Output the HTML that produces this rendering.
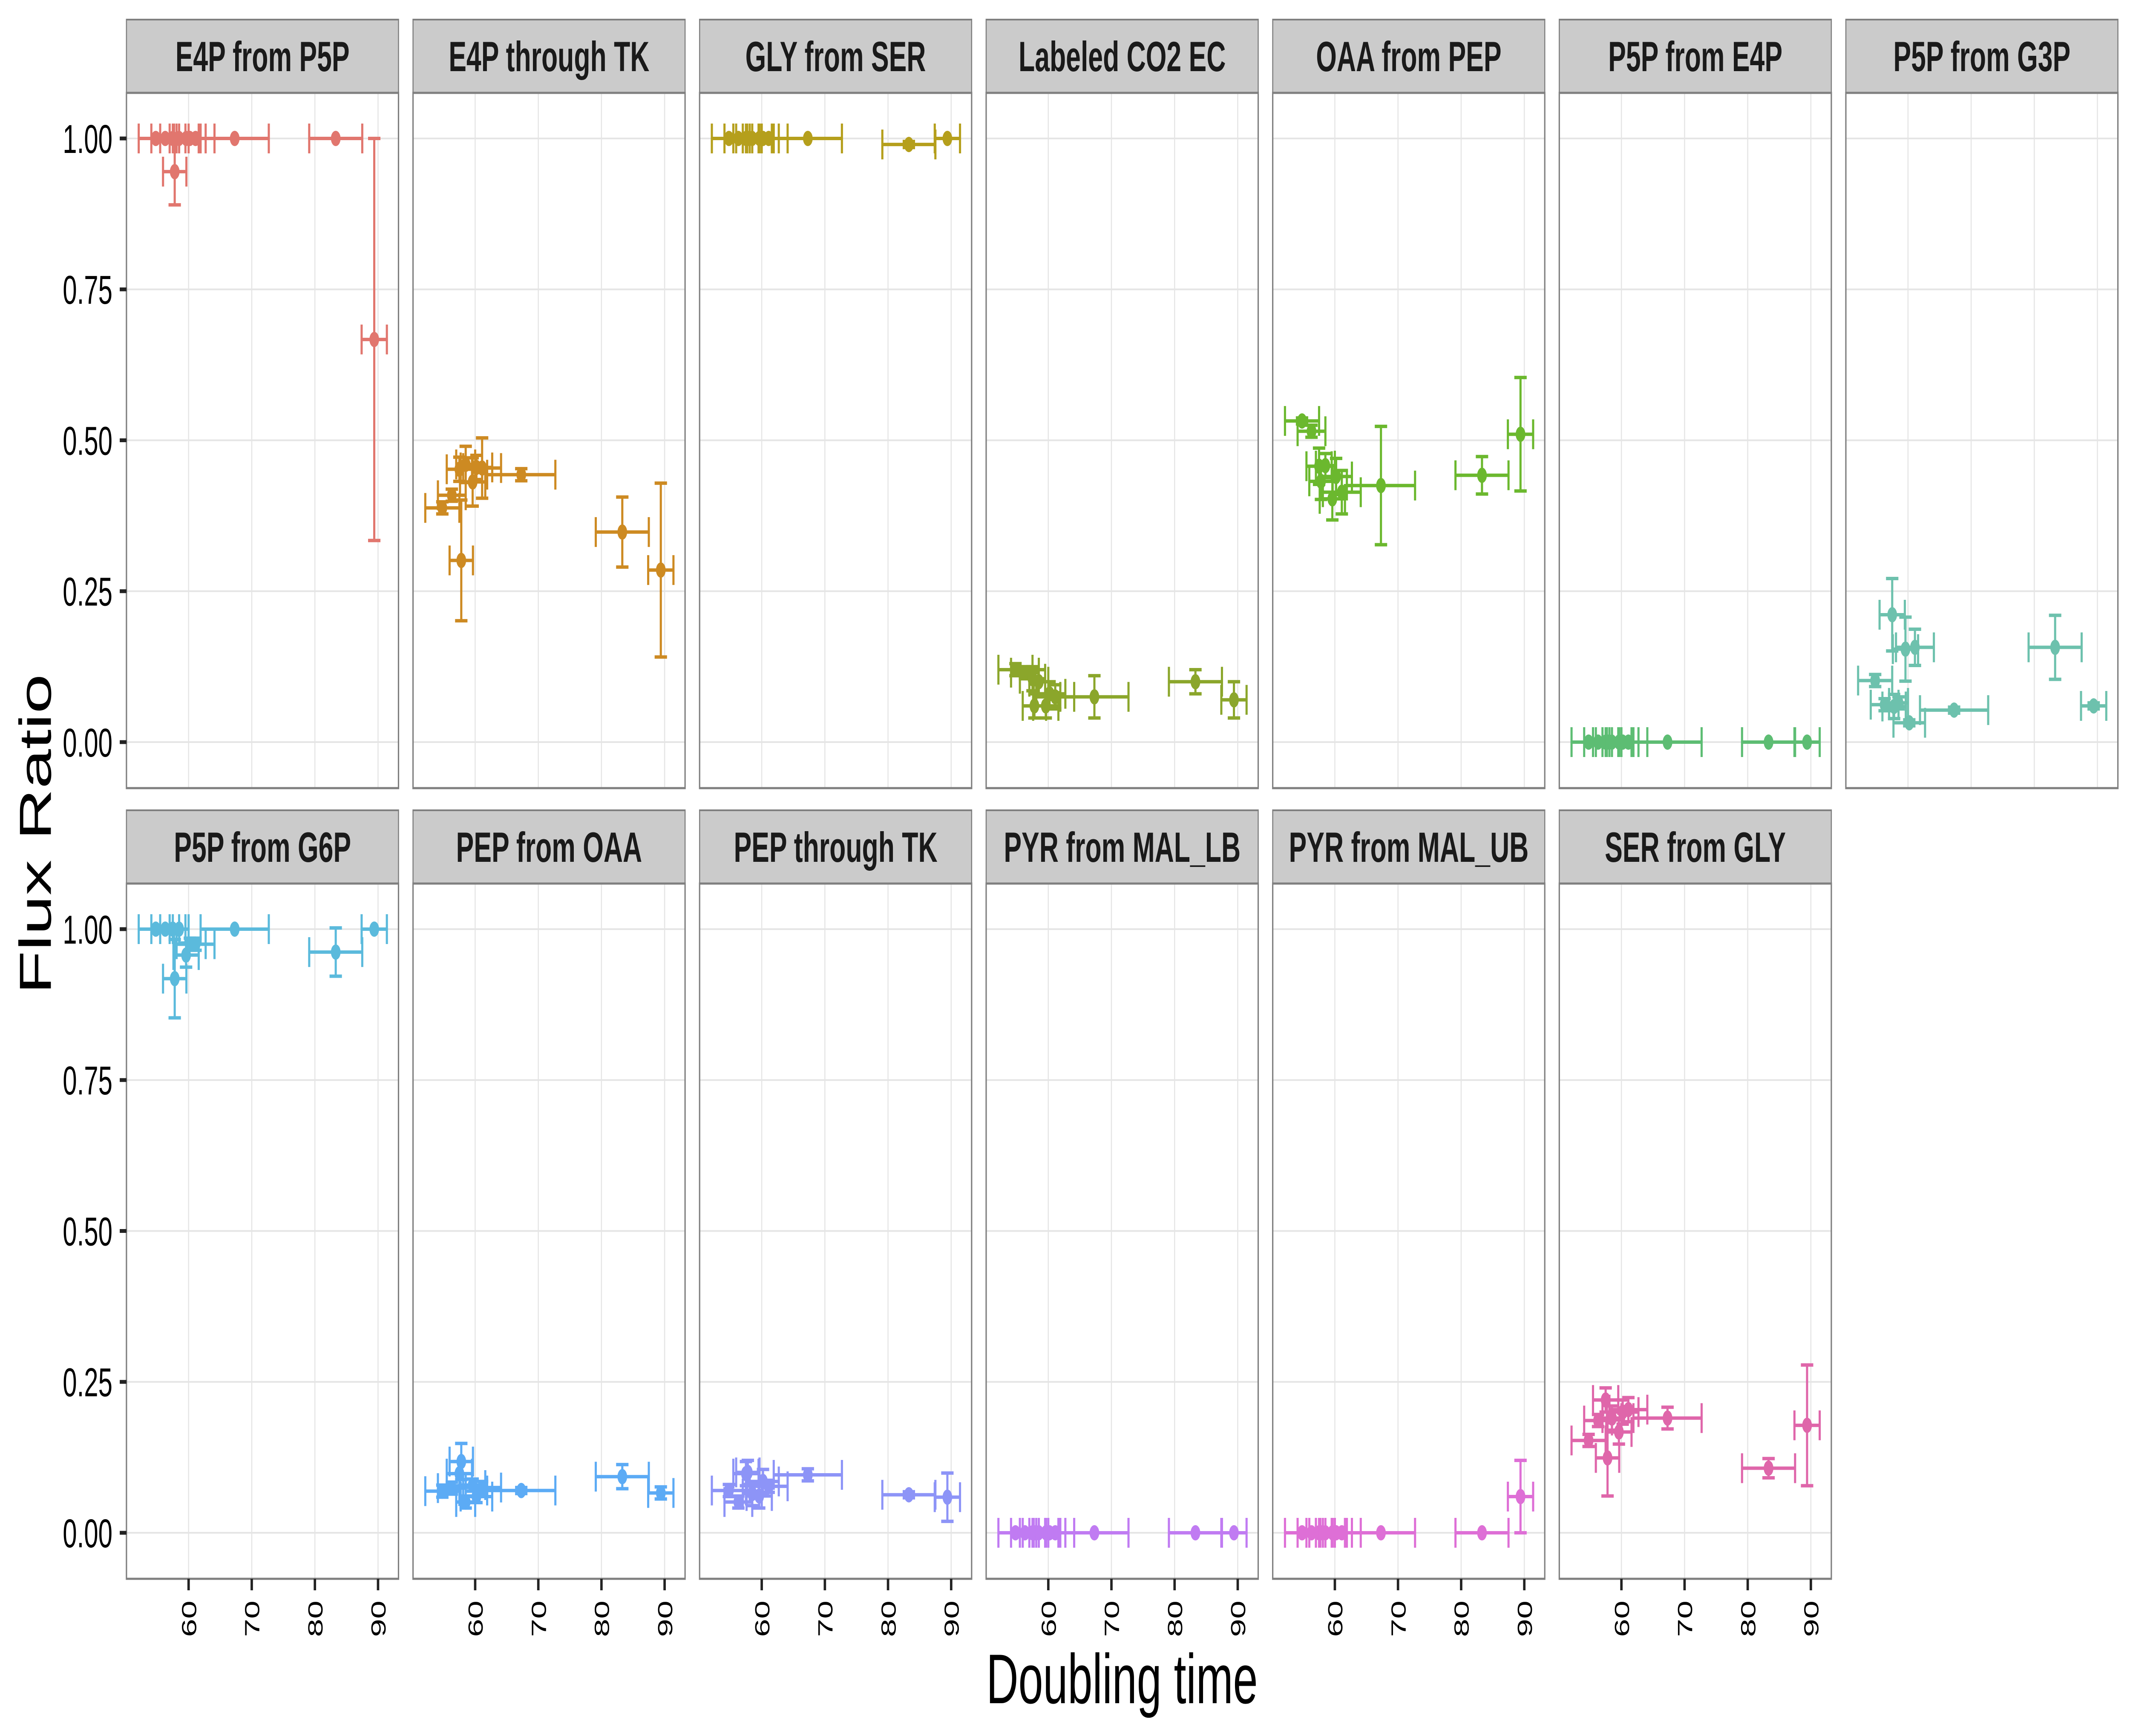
<!DOCTYPE html>
<html><head><meta charset="utf-8"><title>Flux Ratio vs Doubling time</title>
<style>html,body{margin:0;padding:0;background:#fff;width:100%;height:100%;overflow:hidden}svg{display:block;width:100vw;height:100vh}</style></head>
<body>
<svg id="chart" xmlns="http://www.w3.org/2000/svg" viewBox="0 0 7916 4075" preserveAspectRatio="none" font-family="'Liberation Sans', Arial, sans-serif">
<rect width="7916" height="4075" fill="#fff"/>
<text x="4170" y="3998" font-size="165" text-anchor="middle" fill="#000">Doubling time</text>
<text transform="translate(189,1958) rotate(-90)" font-size="167" text-anchor="middle" fill="#000">Flux Ratio</text>
<g id="panels"></g>
</svg>
<script>
const panelNames = ["E4P from P5P","E4P through TK","GLY from SER","Labeled CO2 EC","OAA from PEP","P5P from E4P","P5P from G3P","P5P from G6P","PEP from OAA","PEP through TK","PYR from MAL_LB","PYR from MAL_UB","SER from GLY"];
const panelColors = ["#E1766E","#CD8A22","#B59F1C","#8BA62B","#6BB82E","#5DBD73","#6DC1AD","#5BBADC","#5CABF5","#8D94F7","#C07BF2","#DE6FD6","#DF66AA"];
const doublingTime = [54.8, 56.3, 57.5, 57.8, 58.5, 59.6, 60.2, 61.1, 67.3, 83.3, 89.4];
const doublingErr  = [2.7, 2.2, 2.0, 1.85, 1.5, 2.0, 2.5, 3.0, 5.4, 4.2, 2.0];
const ratio_E4P_from_P5P   = [1, 1, 1, 0.945, 1, 1, 1, 1, 1, 1, 0.667];
const err_E4P_from_P5P     = [0, 0, 0, 0.055, 0, 0, 0, 0, 0, 0, 0.333];
const ratio_E4P_through_TK = [0.388, 0.409, 0.452, 0.301, 0.46, 0.431, 0.455, 0.454, 0.443, 0.348, 0.285];
const err_E4P_through_TK   = [0.01, 0.01, 0.02, 0.1, 0.03, 0.04, 0.02, 0.05, 0.01, 0.058, 0.144];
const ratio_GLY_from_SER   = [1, 1, 1, 1, 1, 1, 1, 1, 1, 0.99, 1];
const err_GLY_from_SER     = [0, 0, 0, 0, 0, 0, 0, 0, 0, 0.005, 0];
const ratio_CO2_EC         = [0.12, 0.115, 0.105, 0.06, 0.1, 0.06, 0.08, 0.075, 0.075, 0.10, 0.07];
const err_CO2_EC           = [0.01, 0.01, 0.02, 0.02, 0.02, 0.02, 0.02, 0.02, 0.035, 0.02, 0.03];
const ratio_OAA_from_PEP   = [0.532, 0.515, 0.457, 0.432, 0.458, 0.403, 0.44, 0.414, 0.425, 0.442, 0.51];
const err_OAA_from_PEP     = [0.005, 0.01, 0.03, 0.03, 0.02, 0.035, 0.03, 0.036, 0.098, 0.031, 0.094];
const ratio_P5P_from_E4P   = [0, 0, 0, 0, 0, 0, 0, 0, 0, 0, 0];
const err_P5P_from_E4P     = [0, 0, 0, 0, 0, 0, 0, 0, 0, 0, 0];
const ratio_P5P_from_G3P   = [0.102, 0.062, 0.211, 0.059, 0.065, 0.154, 0.032, 0.157, 0.053, 0.157, 0.06];
const err_P5P_from_G3P     = [0.01, 0.01, 0.06, 0.02, 0.01, 0.053, 0.005, 0.03, 0.005, 0.053, 0.005];
const ratio_P5P_from_G6P   = [1, 1, 1, 0.918, 1, 0.957, 0.975, 0.975, 1, 0.962, 1];
const err_P5P_from_G6P     = [0, 0, 0, 0.065, 0, 0.02, 0.01, 0.01, 0, 0.04, 0];
const ratio_PEP_from_OAA   = [0.069, 0.074, 0.098, 0.118, 0.051, 0.079, 0.06, 0.075, 0.07, 0.093, 0.066];
const err_PEP_from_OAA     = [0.01, 0.01, 0.02, 0.03, 0.01, 0.01, 0.01, 0.01, 0.005, 0.02, 0.01];
const ratio_PEP_through_TK = [0.07, 0.051, 0.098, 0.1, 0.065, 0.061, 0.085, 0.077, 0.096, 0.063, 0.059];
const err_PEP_through_TK   = [0.01, 0.01, 0.02, 0.02, 0.02, 0.02, 0.02, 0.01, 0.01, 0.005, 0.04];
const ratio_PYR_MAL_LB     = [0, 0, 0, 0, 0, 0, 0, 0, 0, 0, 0];
const err_PYR_MAL_LB       = [0, 0, 0, 0, 0, 0, 0, 0, 0, 0, 0];
const ratio_PYR_MAL_UB     = [0, 0, 0, 0, 0, 0, 0, 0, 0, 0, 0.06];
const err_PYR_MAL_UB       = [0, 0, 0, 0, 0, 0, 0, 0, 0, 0, 0.06];
const ratio_SER_from_GLY   = [0.153, 0.186, 0.22, 0.124, 0.19, 0.167, 0.2, 0.204, 0.19, 0.107, 0.178];
const err_SER_from_GLY     = [0.01, 0.01, 0.02, 0.063, 0.02, 0.02, 0.02, 0.02, 0.018, 0.016, 0.1];
const yTicks = [0, 0.25, 0.5, 0.75, 1];
const yTickLabels = ["0.00", "0.25", "0.50", "0.75", "1.00"];
const xTicks = [60, 70, 80, 90];
const xTickLabels = ["60", "70", "80", "90"];

const ratios = [ratio_E4P_from_P5P, ratio_E4P_through_TK, ratio_GLY_from_SER, ratio_CO2_EC, ratio_OAA_from_PEP, ratio_P5P_from_E4P, ratio_P5P_from_G3P, ratio_P5P_from_G6P, ratio_PEP_from_OAA, ratio_PEP_through_TK, ratio_PYR_MAL_LB, ratio_PYR_MAL_UB, ratio_SER_from_GLY];
const errs = [err_E4P_from_P5P, err_E4P_through_TK, err_GLY_from_SER, err_CO2_EC, err_OAA_from_PEP, err_P5P_from_E4P, err_P5P_from_G3P, err_P5P_from_G6P, err_PEP_from_OAA, err_PEP_through_TK, err_PYR_MAL_LB, err_PYR_MAL_UB, err_SER_from_GLY];

const NS = "http://www.w3.org/2000/svg";
const root = document.getElementById("panels");
const PL = 470, PITCH = 1065, PW = 1011;
const ROW = 1856, STRIP_TOP = 46, PLOT_TOP = 218, PLOT_BOT = 1850;
const X0 = 50.16, X1 = 93.24;
function xScale(v, left) { return left + (v - X0) / (X1 - X0) * PW; }
function yScale(v, rowOff) { return rowOff + 1742 - v * 1417; }
function mk(tag, attrs, parent) {
  const e = document.createElementNS(NS, tag);
  for (const k in attrs) e.setAttribute(k, attrs[k]);
  parent.appendChild(e);
  return e;
}

panelNames.forEach(function (name, p) {
  const row = Math.floor(p / 7), col = p % 7;
  const left = PL + col * PITCH, off = row * ROW;
  const g = mk("g", {}, root);
  
  
  const strip = mk("rect", {x: left, y: off + STRIP_TOP, width: PW, height: PLOT_TOP - STRIP_TOP, fill: "#CBCBCB", stroke: "#7F7F7F", "stroke-width": 4}, g);
  
  
  const st = mk("text", {x: left + PW / 2, y: off + 167, "font-size": 99, "font-weight": "bold", "text-anchor": "middle", fill: "#1a1a1a"}, g);
  st.textContent = name;
  
  
  const bg = mk("rect", {x: left, y: off + PLOT_TOP, width: PW, height: PLOT_BOT - PLOT_TOP, fill: "#fff"}, g);
  
  
  yTicks.forEach(function (t) {
    const l = mk("line", {x1: left, x2: left + PW, y1: yScale(t, off), y2: yScale(t, off), stroke: "#E5E5E5", "stroke-width": 4}, g);
    
    
  });
  xTicks.forEach(function (t) {
    const l = mk("line", {x1: xScale(t, left), x2: xScale(t, left), y1: off + PLOT_TOP, y2: off + PLOT_BOT, stroke: "#E5E5E5", "stroke-width": 4}, g);
    
    
  });
  const color = panelColors[p];
  const vals = ratios[p], ev = errs[p];
  doublingTime.forEach(function (xv, i) {
    const cx = xScale(xv, left), cy = yScale(vals[i], off);
    const xl = xScale(xv - doublingErr[i], left), xr = xScale(xv + doublingErr[i], left);
    const hb = mk("path", {d: "M" + xl + " " + cy + "H" + xr + "M" + xl + " " + (cy - 35) + "V" + (cy + 35) + "M" + xr + " " + (cy - 35) + "V" + (cy + 35), stroke: color, "stroke-width": 8, fill: "none"}, g);
    
    
    const yt = yScale(vals[i] + ev[i], off), yb = yScale(vals[i] - ev[i], off);
    const vb = mk("path", {d: "M" + cx + " " + yt + "V" + yb + "M" + (cx - 23) + " " + yt + "H" + (cx + 23) + "M" + (cx - 23) + " " + yb + "H" + (cx + 23), stroke: color, "stroke-width": 8, fill: "none"}, g);
    
    
    const c = mk("circle", {cx: cx, cy: cy, r: 18, fill: color}, g);
    
    
  });
  const border = mk("rect", {x: left, y: off + PLOT_TOP, width: PW, height: PLOT_BOT - PLOT_TOP, fill: "none", stroke: "#7F7F7F", "stroke-width": 5}, g);
  
  
  if (col === 0) {
    yTicks.forEach(function (t, k) {
      const y = yScale(t, off);
      const tk = mk("line", {x1: 445, x2: 470, y1: y, y2: y, stroke: "#222", "stroke-width": 9}, g);
      
      
      const tl = mk("text", {x: 418, y: y + 34, "font-size": 95, "text-anchor": "end", fill: "#000"}, g);
      tl.textContent = yTickLabels[k];
      
      
    });
  }
  if (row === 1) {
    xTicks.forEach(function (t, k) {
      const x = xScale(t, left);
      const tk = mk("line", {x1: x, x2: x, y1: off + PLOT_BOT, y2: off + PLOT_BOT + 27, stroke: "#222", "stroke-width": 9}, g);
      
      
      const tl = mk("text", {transform: "translate(" + (x + 28) + "," + (off + PLOT_BOT + 51) + ") rotate(-90)", "font-size": 77, "text-anchor": "end", fill: "#000"}, g);
      tl.textContent = xTickLabels[k];
      
      
    });
  }
});
</script>
</body></html>
